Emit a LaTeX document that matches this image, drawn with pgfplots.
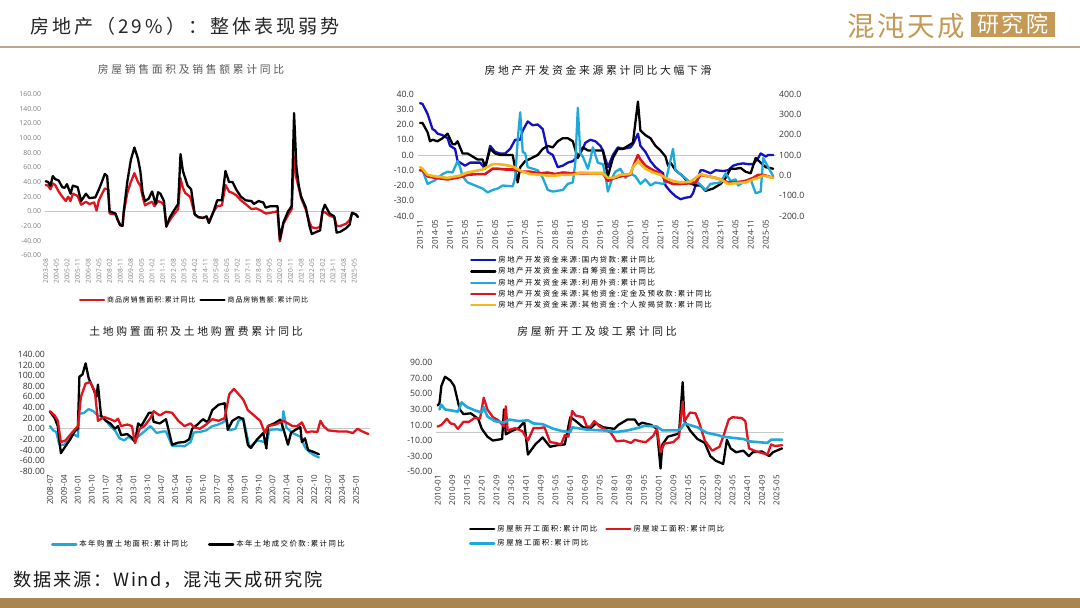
\documentclass[border=0pt]{standalone}
\usepackage{fontspec}
\usepackage{pgfplots}
\pgfplotsset{compat=1.18}
\setmainfont{Open Sans}
\newfontfamily\cjk[LetterSpace=12]{Noto Sans CJK SC}
\newfontfamily\cjkwide[LetterSpace=25]{Noto Sans CJK SC}
\newfontfamily\cjkleg[LetterSpace=20]{Noto Sans CJK SC}
\newfontfamily\cjkhead[LetterSpace=10]{Noto Sans CJK SC}
\newfontfamily\cjkhd[LetterSpace=16]{Noto Sans CJK SC}
\definecolor{cred}{HTML}{E0141E}
\definecolor{cblue}{HTML}{1212BE}
\definecolor{ccyan}{HTML}{1FA9DA}
\definecolor{cyell}{HTML}{F4B81C}
\definecolor{gold}{HTML}{C49A56}
\definecolor{rule}{HTML}{B9A78F}
\definecolor{band}{HTML}{AB8550}
\pgfplotsset{
  panel/.style={
    scale only axis,
    axis line style={draw=none},
    major tick length=0pt,
    xtick pos=bottom, ytick pos=left,
    x tick label style={rotate=90, anchor=east, font=\fontsize{8}{9}\selectfont, text=black!80},
    y tick label style={font=\fontsize{8.7}{10}\selectfont, text=black!80,
      /pgf/number format/fixed, /pgf/number format/fixed zerofill,
      /pgf/number format/precision=2, /pgf/number format/assume math mode=true},
    extra y ticks={0}, extra y tick labels={},
    extra y tick style={grid=major, grid style={black!22, line width=0.6pt}},
    legend style={draw=none, fill=none, font=\fontsize{7.4}{8}\cjkleg, inner sep=0pt, outer sep=0pt,
      /tikz/every even column/.append style={column sep=2pt}},
    legend cell align=left,
    legend image code/.code={\draw[##1] (0pt,0pt) -- (24pt,0pt);},
    clip=false,
  },
  ln/.style={line width=2.3pt, line join=round, line cap=round},
}
\begin{document}
\begin{tikzpicture}[x=1pt,y=1pt]
\useasboundingbox (0,0) rectangle (1080,608);
\fill[white] (0,0) rectangle (1080,608);
% header and footer
\node[anchor=west, inner sep=0, text=black!85] at (30,582) {\fontsize{19}{20}\cjkhd 房地产（29\%）：整体表现弱势};
\draw[rule, line width=1.2pt] (0,561) -- (1080,561);
\node[anchor=west, inner sep=0, text=gold] at (847,582) {\fontsize{27.5}{28}\cjkhead 混沌天成};
\fill[gold] (971,571) rectangle (1055,596);
\node[text=white, inner sep=0] at (1013,583.5) {\fontsize{22}{24}\cjkhead 研究院};
\node[anchor=west, inner sep=0, text=black!90] at (13,28) {\fontsize{18.2}{20}\cjkhead 数据来源：Wind，混沌天成研究院};
\fill[band] (0,0) rectangle (1080,10);
% chart titles
\node[text=black!65, inner sep=0] at (191,539) {\fontsize{10.8}{12}\cjkwide 房屋销售面积及销售额累计同比};
\node[text=black!90, inner sep=0] at (598,538) {\fontsize{10.8}{12}\cjkwide 房地产开发资金来源累计同比大幅下滑};
\node[text=black!90, inner sep=0] at (196,277) {\fontsize{10.8}{12}\cjkwide 土地购置面积及土地购置费累计同比};
\node[text=black!90, inner sep=0] at (597,277) {\fontsize{10.8}{12}\cjkwide 房屋新开工及竣工累计同比};

% chart 1
\begin{axis}[panel, at={(44.5pt,352.7pt)}, anchor=south west, width=315.8pt, height=161.3pt,
  xmin=-1, xmax=266, ymin=-60, ymax=160, ytick={-60,-40,...,160},
  x tick label style={font=\fontsize{6.6}{8}\selectfont, text=black!50},
  y tick label style={font=\fontsize{6.9}{8}\selectfont, text=black!50},
  xtick={0,9,...,261},
  xticklabels={2003-08,2004-05,2005-02,2005-11,2006-08,2007-05,2008-02,2008-11,2009-08,2010-05,2011-02,2011-11,2012-08,2013-05,2014-02,2014-11,2015-08,2016-05,2017-02,2017-11,2018-08,2019-05,2020-02,2020-11,2021-08,2022-05,2023-02,2023-11,2024-08,2025-05},
  legend columns=2,
  legend style={at={(axis description cs:0.109,-0.277)}, anchor=west, font=\fontsize{7}{8}\cjk}]
\addplot[ln, cred] coordinates {(0,36)(2,35)(4,30)(6,38)(8,36)(11,27)(14,20)(17,14)(19,20)(21,14)(23,24)(27,21)(30,9)(34,13)(37,10)(41,12)(43,1)(45,15)(48,25)(50,31)(53,30)(54,-3)(59,-4)(61,-12)(63,-19)(65,-19)(66,-2)(69,25)(72,40)(75,52)(78,40)(80,35)(82,20)(84,8)(87,11)(90,13)(92,7)(95,14)(98,12)(100,8)(102,-20)(105,-12)(108,-5)(112,3)(114,45)(116,32)(118,25)(122,20)(123,15)(126,-4)(129,-8)(133,-9)(136,-7)(138,-15)(142,0)(145,7)(149,8)(152,36)(155,27)(158,25)(161,22)(165,15)(169,10)(174,3)(178,4)(182,1)(186,-3)(190,-2)(196,0)(198,-41)(201,-17)(205,-5)(208,3)(210,75)(212,45)(214,32)(216,18)(220,2)(223,-15)(225,-22)(229,-23)(232,-21)(234,-2)(236,-1)(240,-6)(244,-8)(246,-20)(249,-20)(254,-17)(257,-12)(259,-3)(262,-4)(264,-7)};
\addlegendentry{商品房销售面积:累计同比}
\addplot[ln, black] coordinates {(0,41)(2,40)(4,35)(6,48)(8,44)(11,42)(14,33)(16,32)(18,37)(21,24)(23,35)(27,33)(30,14)(34,24)(37,18)(42,19)(45,30)(47,38)(50,51)(52,48)(54,0)(59,-3)(61,-12)(63,-19)(65,-20)(66,0)(69,40)(72,70)(75,87)(78,72)(80,55)(82,25)(84,14)(87,17)(90,27)(93,10)(95,26)(97,24)(100,14)(102,-21)(105,-8)(108,0)(112,10)(114,78)(116,55)(120,35)(123,30)(126,-4)(129,-8)(133,-9)(136,-7)(138,-16)(142,0)(145,15)(149,15)(152,55)(155,40)(158,40)(161,30)(165,20)(169,15)(174,14)(176,10)(180,14)(184,12)(186,5)(190,7)(196,7)(198,-38)(201,-15)(205,0)(208,7)(210,134)(212,60)(214,35)(216,20)(220,5)(223,-20)(225,-31)(229,-28)(232,-26)(234,0)(236,9)(240,-3)(244,-7)(246,-29)(249,-28)(254,-23)(257,-18)(259,-2)(262,-4)(264,-8)};
\addlegendentry{商品房销售额:累计同比}
\end{axis}

% chart 2: left axis, blue and black
\begin{axis}[panel, at={(417.5pt,392pt)}, anchor=south west, width=358.2pt, height=122pt,
  xmin=-1, xmax=142, ymin=-40, ymax=40, ytick={-40,-30,...,40},
  y tick label style={/pgf/number format/precision=1},
  xtick={0,6,...,138},
  xticklabels={2013-11,2014-05,2014-11,2015-05,2015-11,2016-05,2016-11,2017-05,2017-11,2018-05,2018-11,2019-05,2019-11,2020-05,2020-11,2021-05,2021-11,2022-05,2022-11,2023-05,2023-11,2024-05,2024-11,2025-05}]
\addplot[ln, cblue] coordinates {(0,34)(1,33.5)(3,27)(5,17)(6,16)(7,14)(9,13)(11,11)(12,6)(14,4)(15,-4)(17,-6)(18,-7)(20,-5)(21,-5)(24,-5)(26,-9)(28,6)(30,2)(32,1)(34,1)(36,4)(38,10)(40,10)(41,16)(43,22)(45,19.5)(47,20)(49,17)(51,2)(53,0)(55,-8)(57,-7)(59,-5)(61,-4)(63,-1)(65,4)(66,8)(68,10)(70,9)(72,6)(73,3)(75,-8)(76,-4)(77,0)(79,5)(81,4)(84,5)(85,7)(87,14)(88,6)(90,2)(92,-4)(94,-8)(97,-12)(98,-20)(100,-24)(102,-27)(104,-29)(106,-28)(108,-27.5)(109,-25)(112,-10)(113,-10)(116,-12)(118,-10)(121,-10.5)(123,-10)(125,-7)(127,-6)(129,-5.5)(131,-6)(133,-6)(135,-2)(136,1)(138,-1)(139,0)(141,0)};
\addplot[ln, black] coordinates {(0,21)(1,21)(3,15)(4,9)(5,10)(7,9)(9,11)(11,14)(13,7)(14,7)(15,9)(17,1)(19,1)(21,-1)(23,-3)(25,-3)(26,-8)(28,4)(30,1)(32,0)(35,0)(37,0)(39,-18)(40,-8)(42,-4)(44,-2.5)(47,0)(49,4)(51,6)(53,5)(55,9)(57,11)(59,11)(61,9)(63,-2)(65,5)(67,3)(70,3)(73,3)(75,-14)(77,-2)(79,4)(81,4)(85,8)(87,35)(88,16)(90,13)(92,11)(94,6)(96,3)(98,-1)(99,-7)(100,-5)(102,-10)(105,-14)(107,-18)(110,-20)(112,-20)(114,-23.5)(117,-22)(120,-19)(122,-15)(124,-9)(126,-9)(128,-8.5)(130,-11)(132,-12)(134,-2)(136,-5)(138,-8)(141,-9)};
\end{axis}
% chart 2: right axis, foreign capital
\begin{axis}[panel, at={(417.5pt,392pt)}, anchor=south west, width=358.2pt, height=122pt,
  xmin=-1, xmax=142, ymin=-200, ymax=400, ytick={-200,-100,...,400},
  ytick pos=right, extra y ticks={},
  y tick label style={/pgf/number format/precision=1},
  xtick=\empty]
\addplot[ln, ccyan] coordinates {(0,25)(1,25)(3,-42)(6,-24)(9,6)(11,18)(13,14)(15,70)(16,40)(17,-5)(19,-35)(22,-50)(25,-65)(27,-84)(29,-72)(31,-65)(33,-50)(37,-54)(38,-12)(39,175)(40,310)(41,115)(42,108)(43,40)(47,25)(49,-12)(51,-72)(53,-80)(57,-72)(59,-42)(61,-35)(62,62)(63,332)(64,108)(65,92)(67,32)(68,78)(69,138)(71,62)(73,55)(74,2)(75,-80)(77,-5)(78,18)(80,32)(82,-12)(84,10)(86,-5)(88,-42)(90,-20)(92,-50)(94,-35)(97,-42)(98,-35)(101,130)(102,25)(105,-5)(108,-35)(111,-35)(114,-72)(116,-42)(120,-35)(122,10)(124,-28)(126,-20)(127,-50)(130,-28)(132,-20)(134,-88)(136,-80)(137,85)(139,40)(141,-5)};
\end{axis}
% chart 2: left axis again, red and yellow, carries the legend
\begin{axis}[panel, at={(417.5pt,392pt)}, anchor=south west, width=358.2pt, height=122pt,
  xmin=-1, xmax=142, ymin=-40, ymax=40, hide axis, extra y ticks={},
  legend style={at={(axis description cs:0.147,-0.315)}, anchor=north west, row sep=-0.6pt}]
\addlegendimage{ln, cblue}
\addlegendentry{房地产开发资金来源:国内贷款:累计同比}
\addlegendimage{ln, black}
\addlegendentry{房地产开发资金来源:自筹资金:累计同比}
\addlegendimage{ln, ccyan}
\addlegendentry{房地产开发资金来源:利用外资:累计同比}
\addlegendimage{ln, cred}
\addlegendentry{房地产开发资金来源:其他资金:定金及预收款:累计同比}
\addlegendimage{ln, cyell}
\addlegendentry{房地产开发资金来源:其他资金:个人按揭贷款:累计同比}
\addplot[ln, cred, line width=2.6pt, forget plot] coordinates {(0,-10)(1,-10)(3,-14)(6,-15)(11,-16)(16,-14.5)(19,-13)(23,-12.5)(26,-12.5)(29,-9)(31,-9)(34,-9.5)(37,-9.5)(41,-11)(44,-11)(48,-12)(51,-11.5)(54,-12.5)(57,-11.5)(61,-12)(64,-12)(69,-12)(73,-12)(75,-17)(77,-15.5)(80,-14)(84,-13)(85,-8)(87,0)(88,-3)(90,-7)(93,-10)(96,-12)(98,-17)(101,-19)(104,-19)(108,-18.5)(110,-18)(112,-13)(115,-14)(118,-15)(120,-16)(123,-18)(126,-18)(130,-17)(133,-15)(135,-13)(137,-13)(141,-15)};
\addplot[ln, cyell, line width=2.6pt, forget plot] coordinates {(0,-8)(1,-9)(3,-13)(6,-14)(11,-15)(16,-13.5)(19,-11.5)(25,-9.5)(29,-6)(31,-6)(34,-6.5)(37,-7.5)(41,-11)(44,-12.5)(48,-13)(51,-13.5)(54,-13.5)(57,-13)(61,-13)(64,-11.5)(69,-12)(73,-12)(75,-15)(77,-15)(80,-13)(84,-12.5)(85,-8)(87,-4)(88,-6)(90,-9)(93,-11.5)(96,-13)(98,-15)(101,-17)(104,-18)(108,-17.5)(110,-15)(112,-12.5)(115,-14)(118,-15)(120,-16)(123,-19)(126,-18.5)(130,-18)(133,-16)(135,-15)(137,-13.5)(141,-15)};
\end{axis}

% chart 3
\begin{axis}[panel, at={(48.5pt,136.7pt)}, anchor=south west, width=321.4pt, height=117pt,
  xmin=-1, xmax=207, ymin=-80, ymax=140, ytick={-80,-60,...,140},
  xtick={0,9,...,198},
  xticklabels={2008-07,2009-04,2010-01,2010-10,2011-07,2012-04,2013-01,2013-10,2014-07,2015-04,2016-01,2016-10,2017-07,2018-04,2019-01,2019-10,2020-07,2021-04,2022-01,2022-10,2023-07,2024-04,2025-01},
  legend columns=2,
  legend style={at={(axis description cs:0.008,-0.625)}, anchor=west,
    /tikz/every even column/.append style={column sep=18pt}}]
\addplot[ln, ccyan] coordinates {(0,5)(2,-3)(4,-6)(6,-30)(9,-30)(12,-22)(15,-10)(18,-15)(19,28)(22,30)(25,37)(28,33)(31,25)(35,20)(39,5)(42,-3)(45,-18)(48,-22)(51,-15)(54,-22)(57,-15)(61,-5)(65,5)(69,-8)(73,-5)(75,-5)(79,-32)(83,-32)(87,-33)(91,-25)(93,-7)(97,-6)(101,-3)(105,5)(108,7)(112,12)(114,18)(116,-3)(120,0)(122,15)(125,20)(128,-20)(129,-35)(134,-22)(139,-25)(140,-30)(142,-2)(147,-1)(150,-3)(151,33)(153,2)(157,-8)(162,-15)(165,-35)(168,-44)(171,-50)(174,-54)};
\addlegendentry{本年购置土地面积:累计同比}
\addplot[ln, black] coordinates {(0,32)(3,20)(5,5)(7,-46)(10,-33)(13,-20)(16,-5)(18,0)(19,98)(21,102)(23,123)(25,95)(28,75)(30,60)(31,83)(33,25)(36,15)(39,10)(42,0)(44,5)(46,-12)(50,-10)(53,-17)(55,-25)(57,10)(59,5)(61,15)(64,30)(66,30)(67,13)(71,10)(75,18)(79,-30)(83,-26)(87,-25)(90,-20)(92,0)(95,7)(99,18)(102,12)(105,35)(109,45)(113,48)(115,-2)(118,15)(122,22)(125,18)(128,-30)(130,-36)(134,-20)(138,-8)(140,-37)(141,5)(145,10)(149,17)(151,0)(154,-30)(156,-7)(160,0)(162,3)(163,-25)(165,-18)(167,-40)(170,-43)(174,-48)};
\addlegendentry{本年土地成交价款:累计同比}
\addplot[ln, cred, forget plot] coordinates {(0,33)(3,25)(5,15)(7,-25)(10,-22)(14,-8)(18,5)(20,60)(23,85)(26,88)(29,70)(31,15)(35,22)(39,18)(42,14)(44,19)(46,5)(50,8)(53,5)(55,-27)(58,0)(61,5)(65,20)(67,33)(71,25)(75,32)(79,30)(83,15)(87,5)(91,10)(93,3)(97,0)(101,8)(105,18)(109,15)(113,20)(116,65)(119,75)(122,65)(125,55)(128,35)(132,25)(136,15)(139,-8)(141,5)(146,8)(151,15)(157,5)(160,5)(163,12)(166,-7)(169,-5)(173,-6)(175,15)(177,5)(180,-3)(186,-5)(192,-5)(196,-8)(199,0)(202,-5)(206,-10)};
\end{axis}

% chart 4
\begin{axis}[panel, at={(435.8pt,136.3pt)}, anchor=south west, width=348.2pt, height=109pt,
  xmin=-1, xmax=188, ymin=-50, ymax=90, ytick={-50,-30,...,90},
  xtick={0,8,...,184},
  xticklabels={2010-01,2010-09,2011-05,2012-01,2012-09,2013-05,2014-01,2014-09,2015-05,2016-01,2016-09,2017-05,2018-01,2018-09,2019-05,2020-01,2020-09,2021-05,2022-01,2022-09,2023-05,2024-01,2024-09,2025-05},
  legend columns=2,
  legend style={at={(axis description cs:0.095,-0.47)}, anchor=north west, row sep=3pt,
    /tikz/every even column/.append style={column sep=6pt}}]
\addplot[ln, black] coordinates {(0,35)(1,38)(2,60)(4,72)(7,67)(9,60)(12,30)(14,24)(18,25)(22,18)(24,5)(27,-5)(30,-10)(35,-8)(36,30)(37,-2)(40,2)(44,6)(47,14)(49,-28)(53,-15)(57,-6)(61,-18)(65,-16)(69,-15)(72,20)(75,15)(79,7)(83,6)(86,12)(90,7)(96,5)(98,10)(103,17)(107,17)(109,10)(111,13)(116,10)(119,5)(121,-46)(122,-15)(125,-5)(128,-3)(131,-1)(133,65)(134,15)(137,3)(141,-8)(145,-13)(148,-30)(151,-36)(155,-40)(157,-9)(159,-20)(162,-25)(166,-23)(169,-30)(171,-25)(176,-24)(180,-30)(182,-25)(187,-20)};
\addlegendentry{房屋新开工面积:累计同比}
\addplot[ln, cred] coordinates {(0,8)(2,10)(5,18)(7,12)(9,11)(11,5)(14,14)(17,14)(20,19)(23,18)(25,45)(27,30)(30,20)(33,16)(36,8)(37,34)(38,3)(42,6)(46,2)(49,-10)(52,6)(55,6)(58,7)(61,-12)(64,-13)(67,-15)(69,-3)(71,-5)(73,28)(75,22)(79,20)(81,8)(83,8)(85,15)(88,8)(94,0)(97,-11)(101,-10)(105,-13)(107,-9)(110,-11)(113,-12)(117,-4)(119,5)(121,-25)(123,-14)(128,-12)(131,-5)(133,40)(134,15)(137,26)(140,25)(142,13)(145,-10)(149,-23)(153,-18)(155,-5)(158,17)(160,20)(165,19)(167,15)(169,-20)(173,-24)(179,-28)(181,-15)(183,-17)(187,-16)};
\addlegendentry{房屋竣工面积:累计同比}
\addplot[ln, ccyan, line width=2.6pt] coordinates {(1,30)(2,36)(4,30)(9,28)(11,27)(13,39)(16,33)(20,29)(24,26)(25,33)(27,21)(31,15)(36,13)(39,17)(44,15)(49,16)(52,12)(57,11)(63,5)(68,2)(72,1)(73,7)(81,4)(90,3)(97,1)(103,3)(110,7)(112,9)(119,8)(122,3)(130,3)(132,5)(134,12)(141,7)(146,0)(152,-3)(155,-5)(162,-7)(166,-8)(169,-11)(179,-13)(181,-9)(187,-9)};
\addlegendentry{房屋施工面积:累计同比}
\end{axis}
\end{tikzpicture}
\end{document}
